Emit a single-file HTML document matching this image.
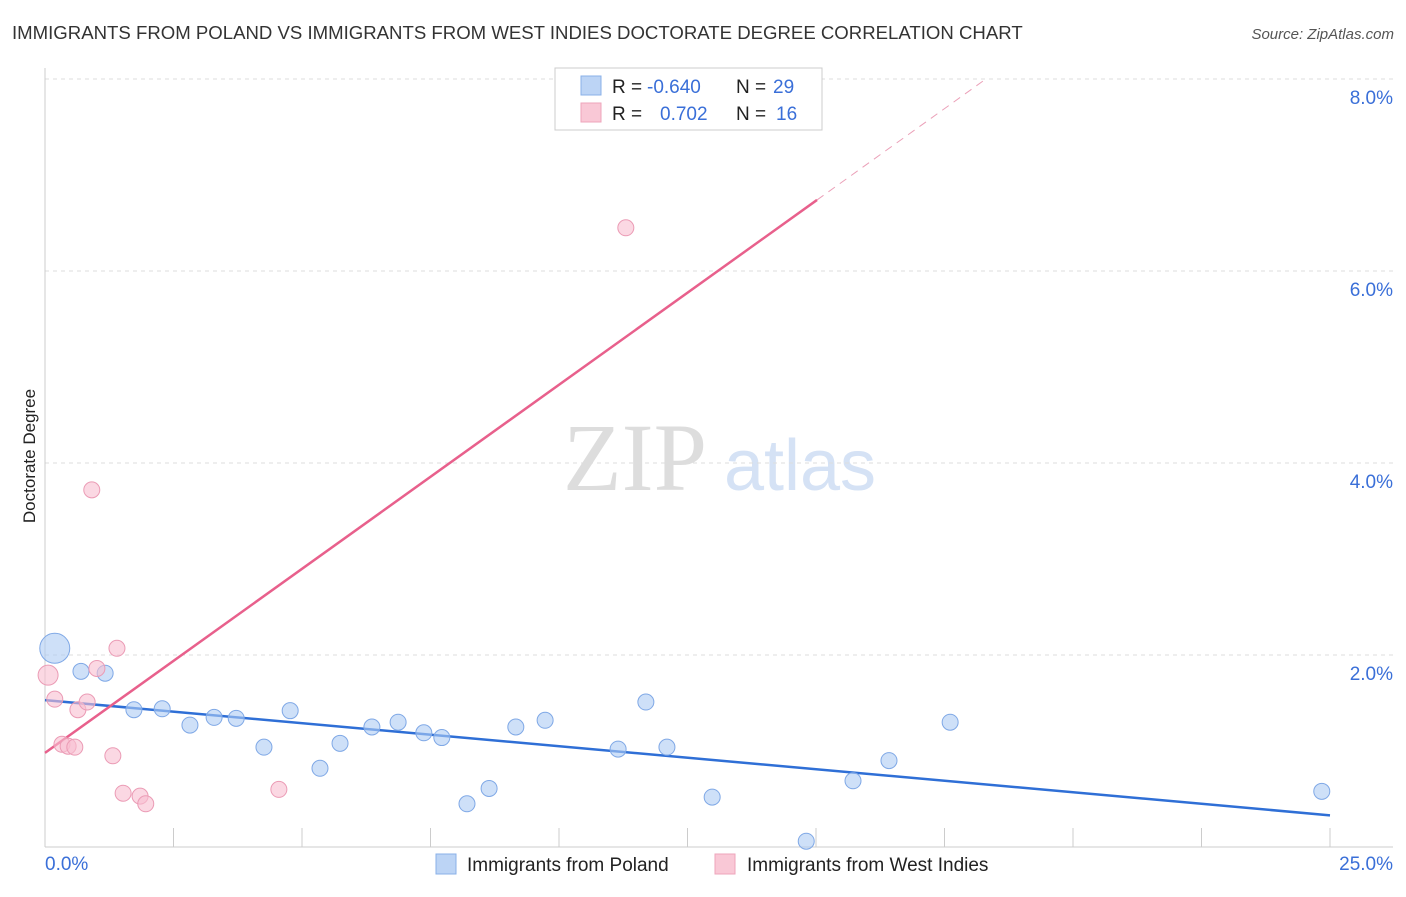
<!DOCTYPE html>
<html><head><meta charset="utf-8"><style>
body{margin:0;background:#fff;font-family:"Liberation Sans",sans-serif;}
svg text{font-family:"Liberation Sans",sans-serif;}
</style></head><body>
<svg id="c" width="1406" height="892">
<text x="12" y="39" font-size="18.6" fill="#333">IMMIGRANTS FROM POLAND VS IMMIGRANTS FROM WEST INDIES DOCTORATE DEGREE CORRELATION CHART</text>
<text x="1394" y="39" font-size="15" fill="#555" text-anchor="end" font-style="italic">Source: ZipAtlas.com</text>
<text x="35" y="456" font-size="17" fill="#222" text-anchor="middle" transform="rotate(-90 35 456)">Doctorate Degree</text>
<g><text x="635" y="490" font-size="96" fill="#ddd" style="font-family:'Liberation Serif',serif" text-anchor="middle">ZIP</text><text x="800" y="490" font-size="72" fill="#d5e2f5" text-anchor="middle">atlas</text></g>
<g id="grid"></g><g id="axes"></g><g id="lines"></g><g id="pts"></g>
<g>
<rect x="555" y="68" width="267" height="62" fill="#fff" stroke="#ccc"/>
<rect x="581" y="76" width="20" height="19" fill="#bcd4f5" stroke="#8ab0e8"/>
<text y="93" font-size="19" fill="#222"><tspan x="612">R =</tspan><tspan x="647" fill="#3a6fd8">-0.640</tspan><tspan x="736">N =</tspan><tspan x="773" fill="#3a6fd8">29</tspan></text>
<rect x="581" y="103" width="20" height="19" fill="#f9c8d6" stroke="#eea5bb"/>
<text y="120" font-size="19" fill="#222"><tspan x="612">R =</tspan><tspan x="660" fill="#3a6fd8">0.702</tspan><tspan x="736">N =</tspan><tspan x="776" fill="#3a6fd8">16</tspan></text>
</g>
<g>
<rect x="436" y="854" width="20" height="20" fill="#bcd4f5" stroke="#8ab0e8"/>
<text x="467" y="871" font-size="19" fill="#222">Immigrants from Poland</text>
<rect x="715" y="854" width="20" height="20" fill="#f9c8d6" stroke="#eea5bb"/>
<text x="747" y="871" font-size="19" fill="#222">Immigrants from West Indies</text>
</g>
</svg>
<script>
const yTicks=[2,4,6,8];
const xTickLabels=["0.0%","25.0%"];
const polandX=[0.19,0.70,1.17,1.73,2.28,2.82,3.29,3.72,4.26,4.77,5.35,5.74,6.36,6.87,7.37,7.72,8.21,8.64,9.16,9.73,11.15,11.69,12.10,12.98,14.81,15.72,16.42,17.61,24.84];
const polandY=[2.07,1.83,1.81,1.43,1.44,1.27,1.35,1.34,1.04,1.42,0.82,1.08,1.25,1.30,1.19,1.14,0.45,0.61,1.25,1.32,1.02,1.51,1.04,0.52,0.06,0.69,0.90,1.30,0.58];
const polandR=[15,8,8,8,8,8,8,8,8,8,8,8,8,8,8,8,8,8,8,8,8,8,8,8,8,8,8,8,8];
const wiX=[0.06,0.19,0.33,0.45,0.58,0.64,0.82,0.91,1.01,1.32,1.40,1.52,1.85,1.96,4.55,11.30];
const wiY=[1.79,1.54,1.07,1.05,1.04,1.43,1.51,3.72,1.86,0.95,2.07,0.56,0.53,0.45,0.60,6.45];
const polandTrend=[1.53,0.33];
const wiTrend=[0.98,0.3835];
const sx=v=>45+v*51.4, sy=v=>847-v*96;
const NS="http://www.w3.org/2000/svg";
function mk(p,t,a){const e=document.createElementNS(NS,t);for(const k in a)e.setAttribute(k,a[k]);document.getElementById(p).appendChild(e);return e;}
yTicks.forEach(t=>{
 const l=mk('grid','line',{x1:45,x2:1393,y1:sy(t),y2:sy(t),stroke:'#ddd','stroke-dasharray':'4,4'});
 
 
 const tx=mk('grid','text',{x:1393,y:sy(t)+25,'font-size':19,fill:'#3a6fd8','text-anchor':'end'});tx.textContent=t.toFixed(1)+'%';
 
 
});
const xa=mk('axes','line',{x1:45,x2:1393,y1:847,y2:847,stroke:'#ccc'});


const ya=mk('axes','line',{x1:45,x2:45,y1:68,y2:847,stroke:'#ccc'});


for(let i=1;i<=10;i++){const t=mk('axes','line',{x1:sx(i*2.5),x2:sx(i*2.5),y1:828,y2:847,stroke:'#ccc'});
 
 }
[[0,'start',45],[25,'end',1393]].forEach((d,i)=>{const t=mk('axes','text',{x:d[2],y:870,'font-size':19,fill:'#3a6fd8','text-anchor':d[1]});t.textContent=xTickLabels[i];
 
 });
const bl=mk('lines','line',{x1:sx(0),y1:sy(polandTrend[0]),x2:sx(25),y2:sy(polandTrend[1]),stroke:'#2f6fd6','stroke-width':2.5});


const xe=15.02, xd=(8.0-wiTrend[0])/wiTrend[1];
const pl=mk('lines','line',{x1:sx(0),y1:sy(wiTrend[0]),x2:sx(xe),y2:sy(wiTrend[0]+wiTrend[1]*xe),stroke:'#e8608c','stroke-width':2.5});


const pd=mk('lines','line',{x1:sx(xe),y1:sy(wiTrend[0]+wiTrend[1]*xe),x2:sx(xd),y2:sy(wiTrend[0]+wiTrend[1]*xd),stroke:'#eba0b8','stroke-width':1,'stroke-dasharray':'8,6'});


polandX.forEach((x,i)=>{const c=mk('pts','circle',{cx:sx(x),cy:sy(polandY[i]),r:polandR[i],fill:'rgba(173,203,243,0.6)',stroke:'#7fa8e6','stroke-width':1});
 
 });
wiX.forEach((x,i)=>{const c=mk('pts','circle',{cx:sx(x),cy:sy(wiY[i]),r:i==0?10:8,fill:'rgba(248,190,208,0.6)',stroke:'#eb9bb5','stroke-width':1});
 
 });
</script>
</body></html>
